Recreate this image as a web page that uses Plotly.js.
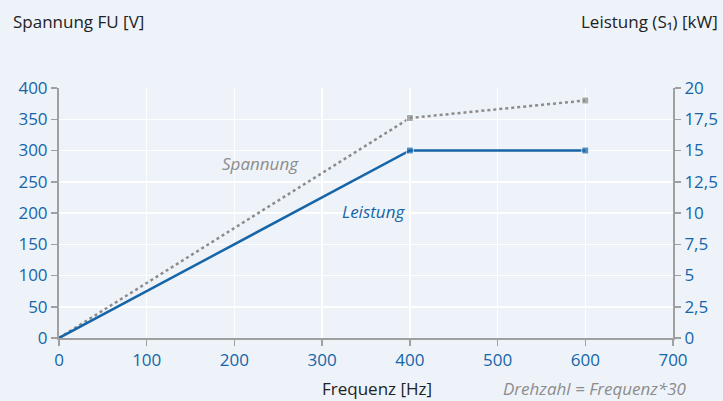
<!DOCTYPE html>
<html>
<head>
<meta charset="utf-8">
<script src="https://cdn.plot.ly/plotly-3.0.1.min.js"></script>
<style>html,body{margin:0;padding:0;background:#eef3fa;}#chart{width:723px;height:401px;}</style>
</head>
<body>
<div id="chart"></div>
<script>
const frequenz = [0, 400, 600];
const spannung = [0, 352, 380];
const leistung = [0, 15, 15];
const markerSizes = [0, 7, 7];

const blue = '#1565a8';
const gray = '#8c8c8c';
const font = 'Open Sans, Noto Sans, sans-serif';

const traces = [
  {x: frequenz, y: spannung, type: 'scatter', mode: 'lines+markers', yaxis: 'y',
   line: {color: gray, width: 2.5, dash: 'dot'}, marker: {symbol: 'square', size: markerSizes, color: gray}},
  {x: frequenz, y: leistung, type: 'scatter', mode: 'lines+markers', yaxis: 'y2',
   line: {color: blue, width: 2.5}, marker: {symbol: 'square', size: markerSizes, color: blue}}
];

const axisCommon = {
  showline: true, linecolor: '#a0a0a0', linewidth: 2,
  ticks: 'outside', ticklen: 6, tickcolor: '#a0a0a0', tickwidth: 1.5,
  gridcolor: '#ffffff', gridwidth: 1.5, zeroline: false,
  tickfont: {family: font, size: 17, color: blue}
};

const layout = {
  width: 723, height: 401,
  margin: {l: 59, r: 50, t: 88, b: 63},
  paper_bgcolor: '#eef3fa', plot_bgcolor: '#eef3fa',
  showlegend: false,
  xaxis: Object.assign({}, axisCommon, {range: [0, 700], dtick: 100, tick0: 0}),
  yaxis: Object.assign({}, axisCommon, {range: [0, 400], dtick: 50, tick0: 0}),
  yaxis2: Object.assign({}, axisCommon, {range: [0, 20], dtick: 2.5, tick0: 0, overlaying: 'y', side: 'right',
    showgrid: false}),
  separators: ',.',
  annotations: [
    {xref: 'paper', yref: 'paper', x: (11-59)/614, y: (338-21)/250, xanchor: 'left', yanchor: 'middle', showarrow: false,
     text: 'Spannung FU [V]', font: {family: font, size: 17, color: '#222'}},
    {xref: 'paper', yref: 'paper', x: (720-59)/614, y: (338-21)/250, xanchor: 'right', yanchor: 'middle', showarrow: false,
     text: 'Leistung (S₁) [kW]', font: {family: font, size: 17, color: '#222'}},
    {xref: 'paper', yref: 'paper', x: (433-59)/614, y: -50/250, xanchor: 'right', yanchor: 'middle', showarrow: false,
     borderpad: 0, text: 'Frequenz [Hz]', font: {family: font, size: 17, color: '#222'}},
    {xref: 'paper', yref: 'paper', x: (688-59)/614, y: -50/250, xanchor: 'right', yanchor: 'middle', showarrow: false,
     borderpad: 0, text: '<i>Drehzahl = Frequenz*30</i>', font: {family: font, size: 17, color: gray}},
    {xref: 'x', yref: 'y', x: 230, y: 280, xanchor: 'center', yanchor: 'middle', showarrow: false,
     text: '<i>Spannung</i>', font: {family: font, size: 17, color: gray}},
    {xref: 'x', yref: 'y', x: 358, y: 202, xanchor: 'center', yanchor: 'middle', showarrow: false,
     text: '<i>Leistung</i>', font: {family: font, size: 17, color: blue}}
  ]
};

Plotly.newPlot('chart', traces, layout, {displayModeBar: false, staticPlot: true});
</script>
</body>
</html>
